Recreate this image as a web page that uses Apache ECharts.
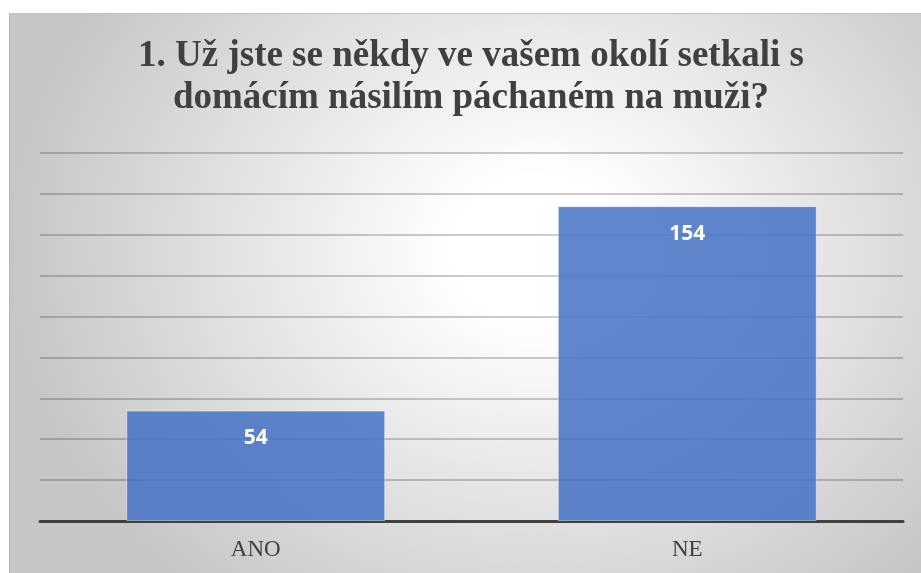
<!DOCTYPE html>
<html>
<head>
<meta charset="utf-8">
<script src="https://cdn.jsdelivr.net/npm/echarts@6/dist/echarts.min.js"></script>
<style>
  html, body { margin: 0; padding: 0; background: #fff; }
  /* rámeček s radiálním přechodem jako v Excelu */
  #frame {
    position: absolute; left: 9px; top: 13px; width: 912px; height: 560px;
    box-sizing: border-box;
    border-left: 1px solid #b8b8b8; border-top: 1px solid #c0c0c0;
    background: radial-gradient(ellipse 58% 80% at 58% 42%, #ffffff 0%, #ffffff 16%, #c6c6c6 100%);
  }
  #chart { position: absolute; left: 0; top: 0; width: 921px; height: 573px; }
</style>
</head>
<body>
<div id="frame"></div>
<div id="chart"></div>
<script>
const titleText = "1. Už jste se někdy ve vašem okolí setkali s\ndomácím násilím páchaném na muži?";
const categories = ["ANO", "NE"];
const values = [54, 154];
const yMax = 180;
const yStep = 20;

const chart = echarts.init(document.getElementById("chart"));
chart.setOption({
  backgroundColor: "transparent",
  animation: false,
  // nadpis jako grafický text, aby šel vycentrovat mimo střed plátna
  graphic: [
    {
      type: "text",
      x: 471,
      y: 35,
      style: {
        text: titleText,
        align: "center",
        verticalAlign: "top",
        fontFamily: "Liberation Serif",
        fontWeight: "bold",
        fontSize: 37,
        lineHeight: 42,
        fill: "#404040",
      },
    },
  ],
  grid: { left: 40, right: 18, top: 153, bottom: 52 },
  xAxis: {
    type: "category",
    data: categories,
    axisLine: { lineStyle: { color: "#404040", width: 3 } },
    axisTick: { show: false },
    axisLabel: {
      margin: 17,
      fontFamily: "Liberation Serif",
      fontSize: 23,
      color: "#404040",
    },
  },
  yAxis: {
    type: "value",
    min: 0,
    max: yMax,
    interval: yStep,
    axisLine: { show: false },
    axisTick: { show: false },
    axisLabel: { show: false },
    splitLine: { lineStyle: { color: "rgba(0,0,0,0.2)", width: 2 } },
  },
  series: [
    {
      type: "bar",
      data: values,
      barWidth: "60%",
      itemStyle: {
        color: "rgba(68,114,196,0.85)",
        borderColor: "rgba(255,255,255,0.45)",
        borderWidth: 1,
      },
      label: {
        show: true,
        position: "insideTop",
        distance: 17,
        color: "#ffffff",
        fontFamily: "Open Sans",
        fontWeight: "bold",
        fontSize: 21,
      },
    },
  ],
});
</script>
</body>
</html>
